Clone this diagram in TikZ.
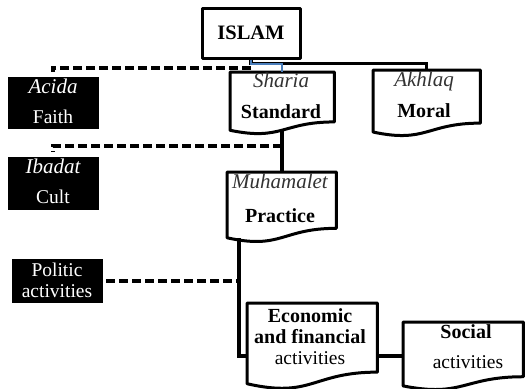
\documentclass[tikz,border=0pt]{standalone}
\usepackage{fontspec}
\setmainfont{Liberation Serif}
\usetikzlibrary{calc}
\definecolor{italgray}{HTML}{333333}
\definecolor{selblue}{HTML}{4A7EBB}
\begin{document}
\begin{tikzpicture}[x=1pt,y=-1pt,
  boxline/.style={line width=3pt, line join=round},
  darkbox/.style={fill=black, draw=black, inner sep=0pt, anchor=north west},
  docbox/.style={inner sep=0pt, anchor=north west},
  conn/.style={line width=3.5pt},
  dconn/.style={line width=4pt, dash pattern=on 9pt off 4pt},
  lit/.style={font=\fontsize{21}{21}\selectfont\itshape, text=italgray, anchor=base, inner sep=0pt},
  lbold/.style={font=\fontsize{20}{20}\selectfont\bfseries, anchor=base, inner sep=0pt},
  lreg/.style={font=\fontsize{19.5}{20}\selectfont, anchor=base, inner sep=0pt},
  litw/.style={lit, text=white},
  lregw/.style={lreg, text=white},
]
\useasboundingbox (0,0) rectangle (526,388);

% ISLAM
\node[draw, boxline, minimum width=98pt, minimum height=50pt, inner sep=0pt,
      font=\fontsize{20.5}{21}\selectfont\bfseries] (islam) at (251,33) {ISLAM};

% dark boxes
\node[darkbox, minimum width=90pt, minimum height=51pt] (acida) at (8,77) {};
\node[darkbox, minimum width=90pt, minimum height=52pt] (ibadat) at (8,157) {};
\node[darkbox, minimum width=90pt, minimum height=43pt] (politic) at (12,259) {};

\node[litw] (acida-a) at (53,93) {Acida};
\node[lregw] (acida-b) at (53,123) {Faith};
\node[litw] (ibadat-a) at (53,173) {Ibadat};
\node[lregw] (ibadat-b) at (53,203) {Cult};
\node[lregw] (politic-a) at (57,276) {Politic};
\node[lregw] (politic-b) at (57,297) {activities};

% document boxes
\node[docbox, minimum width=104pt, minimum height=62pt] (sharia) at (230,72) {};
\node[docbox, minimum width=107pt, minimum height=66pt] (moral) at (373,70) {};
\node[docbox, minimum width=109pt, minimum height=70pt] (muham) at (227,172) {};
\node[docbox, minimum width=130pt, minimum height=86pt] (econ) at (247,303) {};
\node[docbox, minimum width=120pt, minimum height=68pt] (social) at (403,322) {};

\foreach \n in {sharia,moral,muham,econ,social}
  \draw[boxline] (\n.north west) -- (\n.north east)
    -- ($(\n.north east)!0.8!(\n.south east)$)
    .. controls ($(\n.north)!0.8!(\n.south)$) and ($(\n.north)!1.107!(\n.south)$)
    .. ($(\n.north west)!0.934!(\n.south west)$) -- cycle;

\node[lit] (sharia-a) at (281,87) {Sharia};
\node[lbold] (sharia-b) at (281,118) {Standard};
\node[lit] (moral-a) at (424,86) {Akhlaq};
\node[lbold] (moral-b) at (424,117) {Moral};
\node[lit] (muham-a) at (280,188) {Muhamalet};
\node[lbold] (muham-b) at (280,222) {Practice};
\node[lbold] (econ-a) at (310,322) {Economic};
\node[lbold] (econ-b) at (310,343) {and financial};
\node[lreg] (econ-c) at (310,364) {activities};
\node[lbold] (social-a) at (466,338) {Social};
\node[lreg] (social-b) at (468,368) {activities};

% connectors
\draw[conn] (islam.south) -- ++(0,4) -| (moral.north);
\draw[selblue, line width=2pt] (islam.south) -- ++(0,4) -| (sharia.north);
\draw[dconn] ($(islam.south)+(0,8)$) -| ($(acida.north)+(0,-5)$);
\draw[conn] ($(sharia.south)+(0,-4)$) -- (sharia.south |- muham.north);
\draw[dconn] ($(sharia.south)+(0,12)$) -| ($(ibadat.north)+(0,-5)$);
\coordinate (trunk) at ($(muham.south west)+(12,-4)$);
\draw[conn] (trunk) |- ($(econ.west)+(0,10)$);
\draw[dconn, shorten <=4pt] (politic.east) -- (politic.east -| trunk);
\draw[conn] (econ.east |- social.west) -- (social.west);
\end{tikzpicture}
\end{document}
